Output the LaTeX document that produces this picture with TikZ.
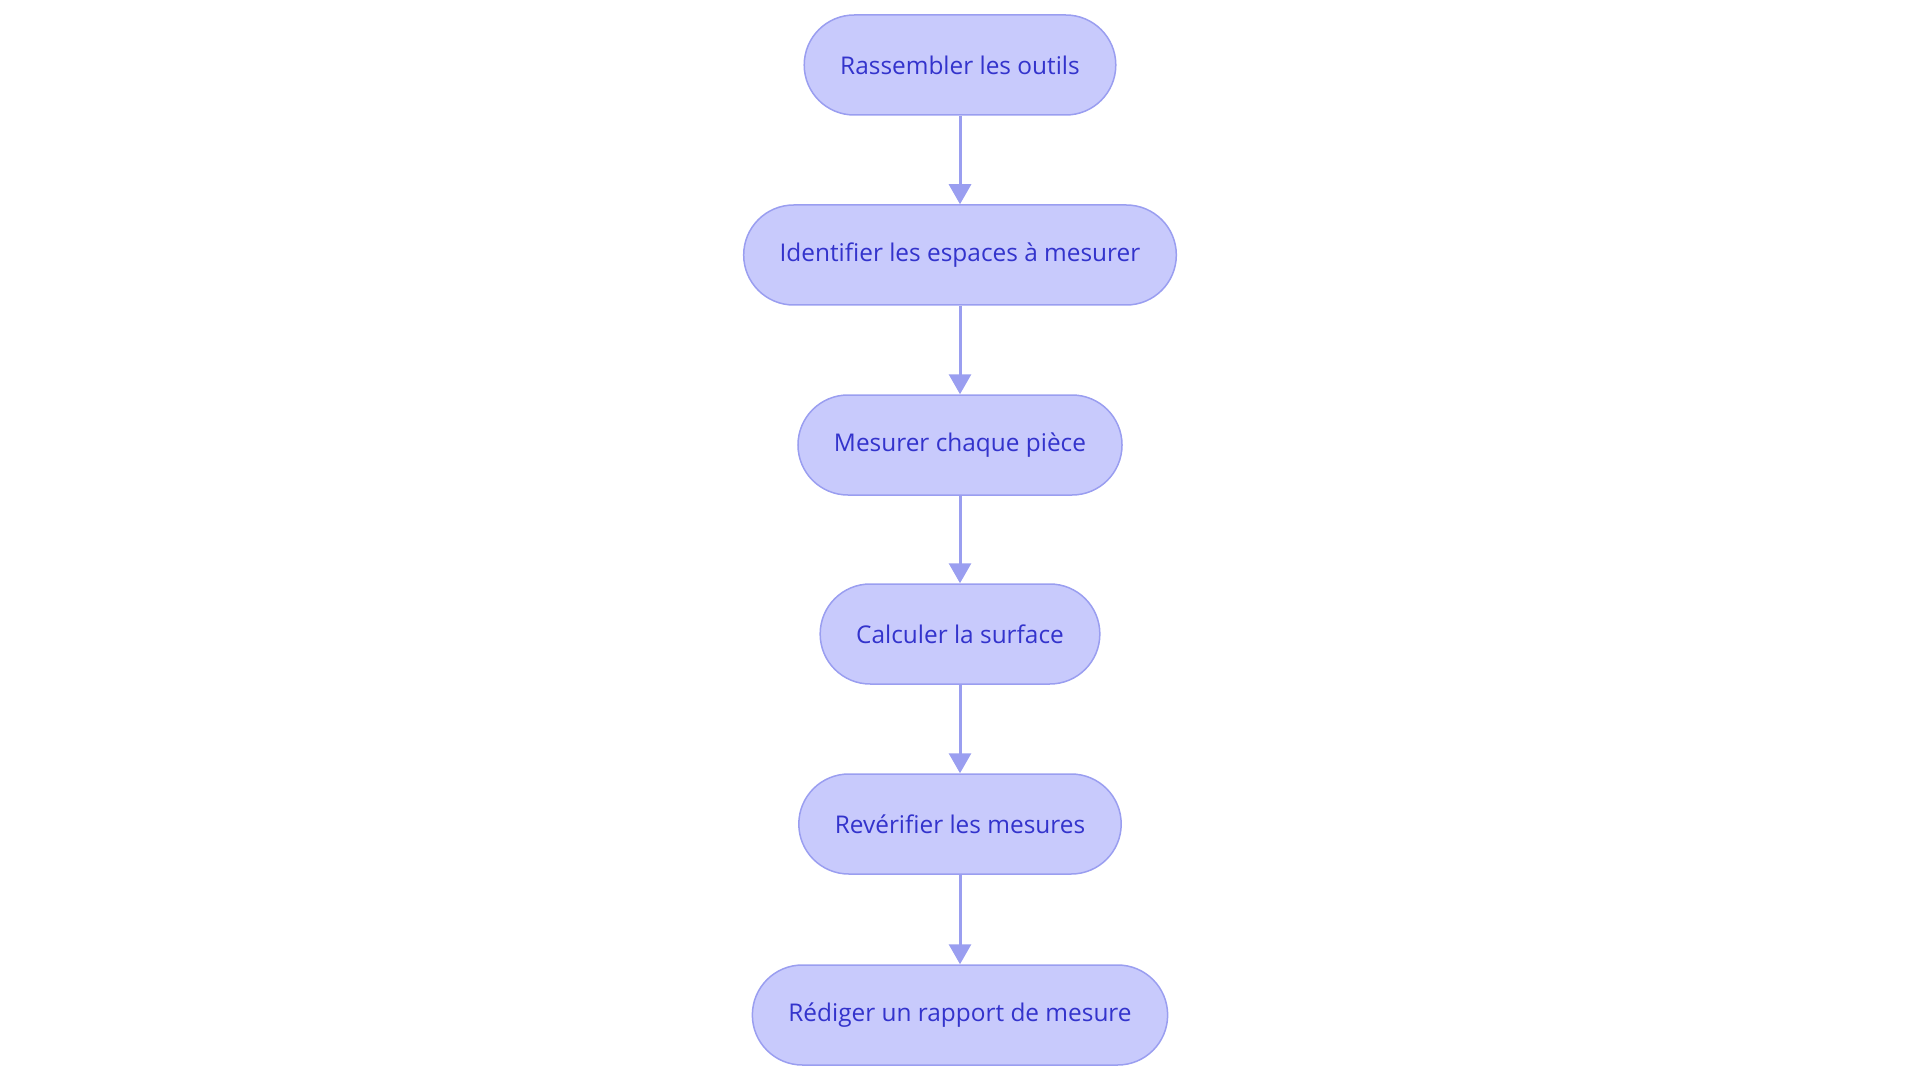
\documentclass[tikz,border=0pt]{standalone}
\usepackage{fontspec}
\setmainfont{Open Sans}
\usetikzlibrary{arrows.meta,positioning}
\definecolor{boxfill}{HTML}{C8CAFC}
\definecolor{boxline}{HTML}{9A9EF0}
\definecolor{boxtext}{HTML}{3333CC}
\tikzset{
  stepbox/.style={draw=boxline, fill=boxfill, line width=1.5pt, rounded corners=50pt,
    minimum height=100pt, inner xsep=36pt, text=boxtext,
    font=\fontsize{24.4}{29}\selectfont},
  flow/.style={draw=boxline, line width=3pt, -{Triangle[width=22pt,length=20pt]}}
}
\begin{document}
\begin{tikzpicture}[x=1pt,y=-1pt]
\useasboundingbox (0,0) rectangle (1920,1083);
\node[stepbox] (n1) at (960,65) {Rassembler les outils};
\node[stepbox] (n2) at (960,255) {Identifier les espaces à mesurer};
\node[stepbox] (n3) at (960,445) {Mesurer chaque pièce};
\node[stepbox] (n4) at (960,634) {Calculer la surface};
\node[stepbox] (n5) at (960,824) {Revérifier les mesures};
\node[stepbox] (n6) at (960,1015) {Rédiger un rapport de mesure};
\draw[flow] (n1) -- (n2);
\draw[flow] (n2) -- (n3);
\draw[flow] (n3) -- (n4);
\draw[flow] (n4) -- (n5);
\draw[flow] (n5) -- (n6);
\end{tikzpicture}
\end{document}
